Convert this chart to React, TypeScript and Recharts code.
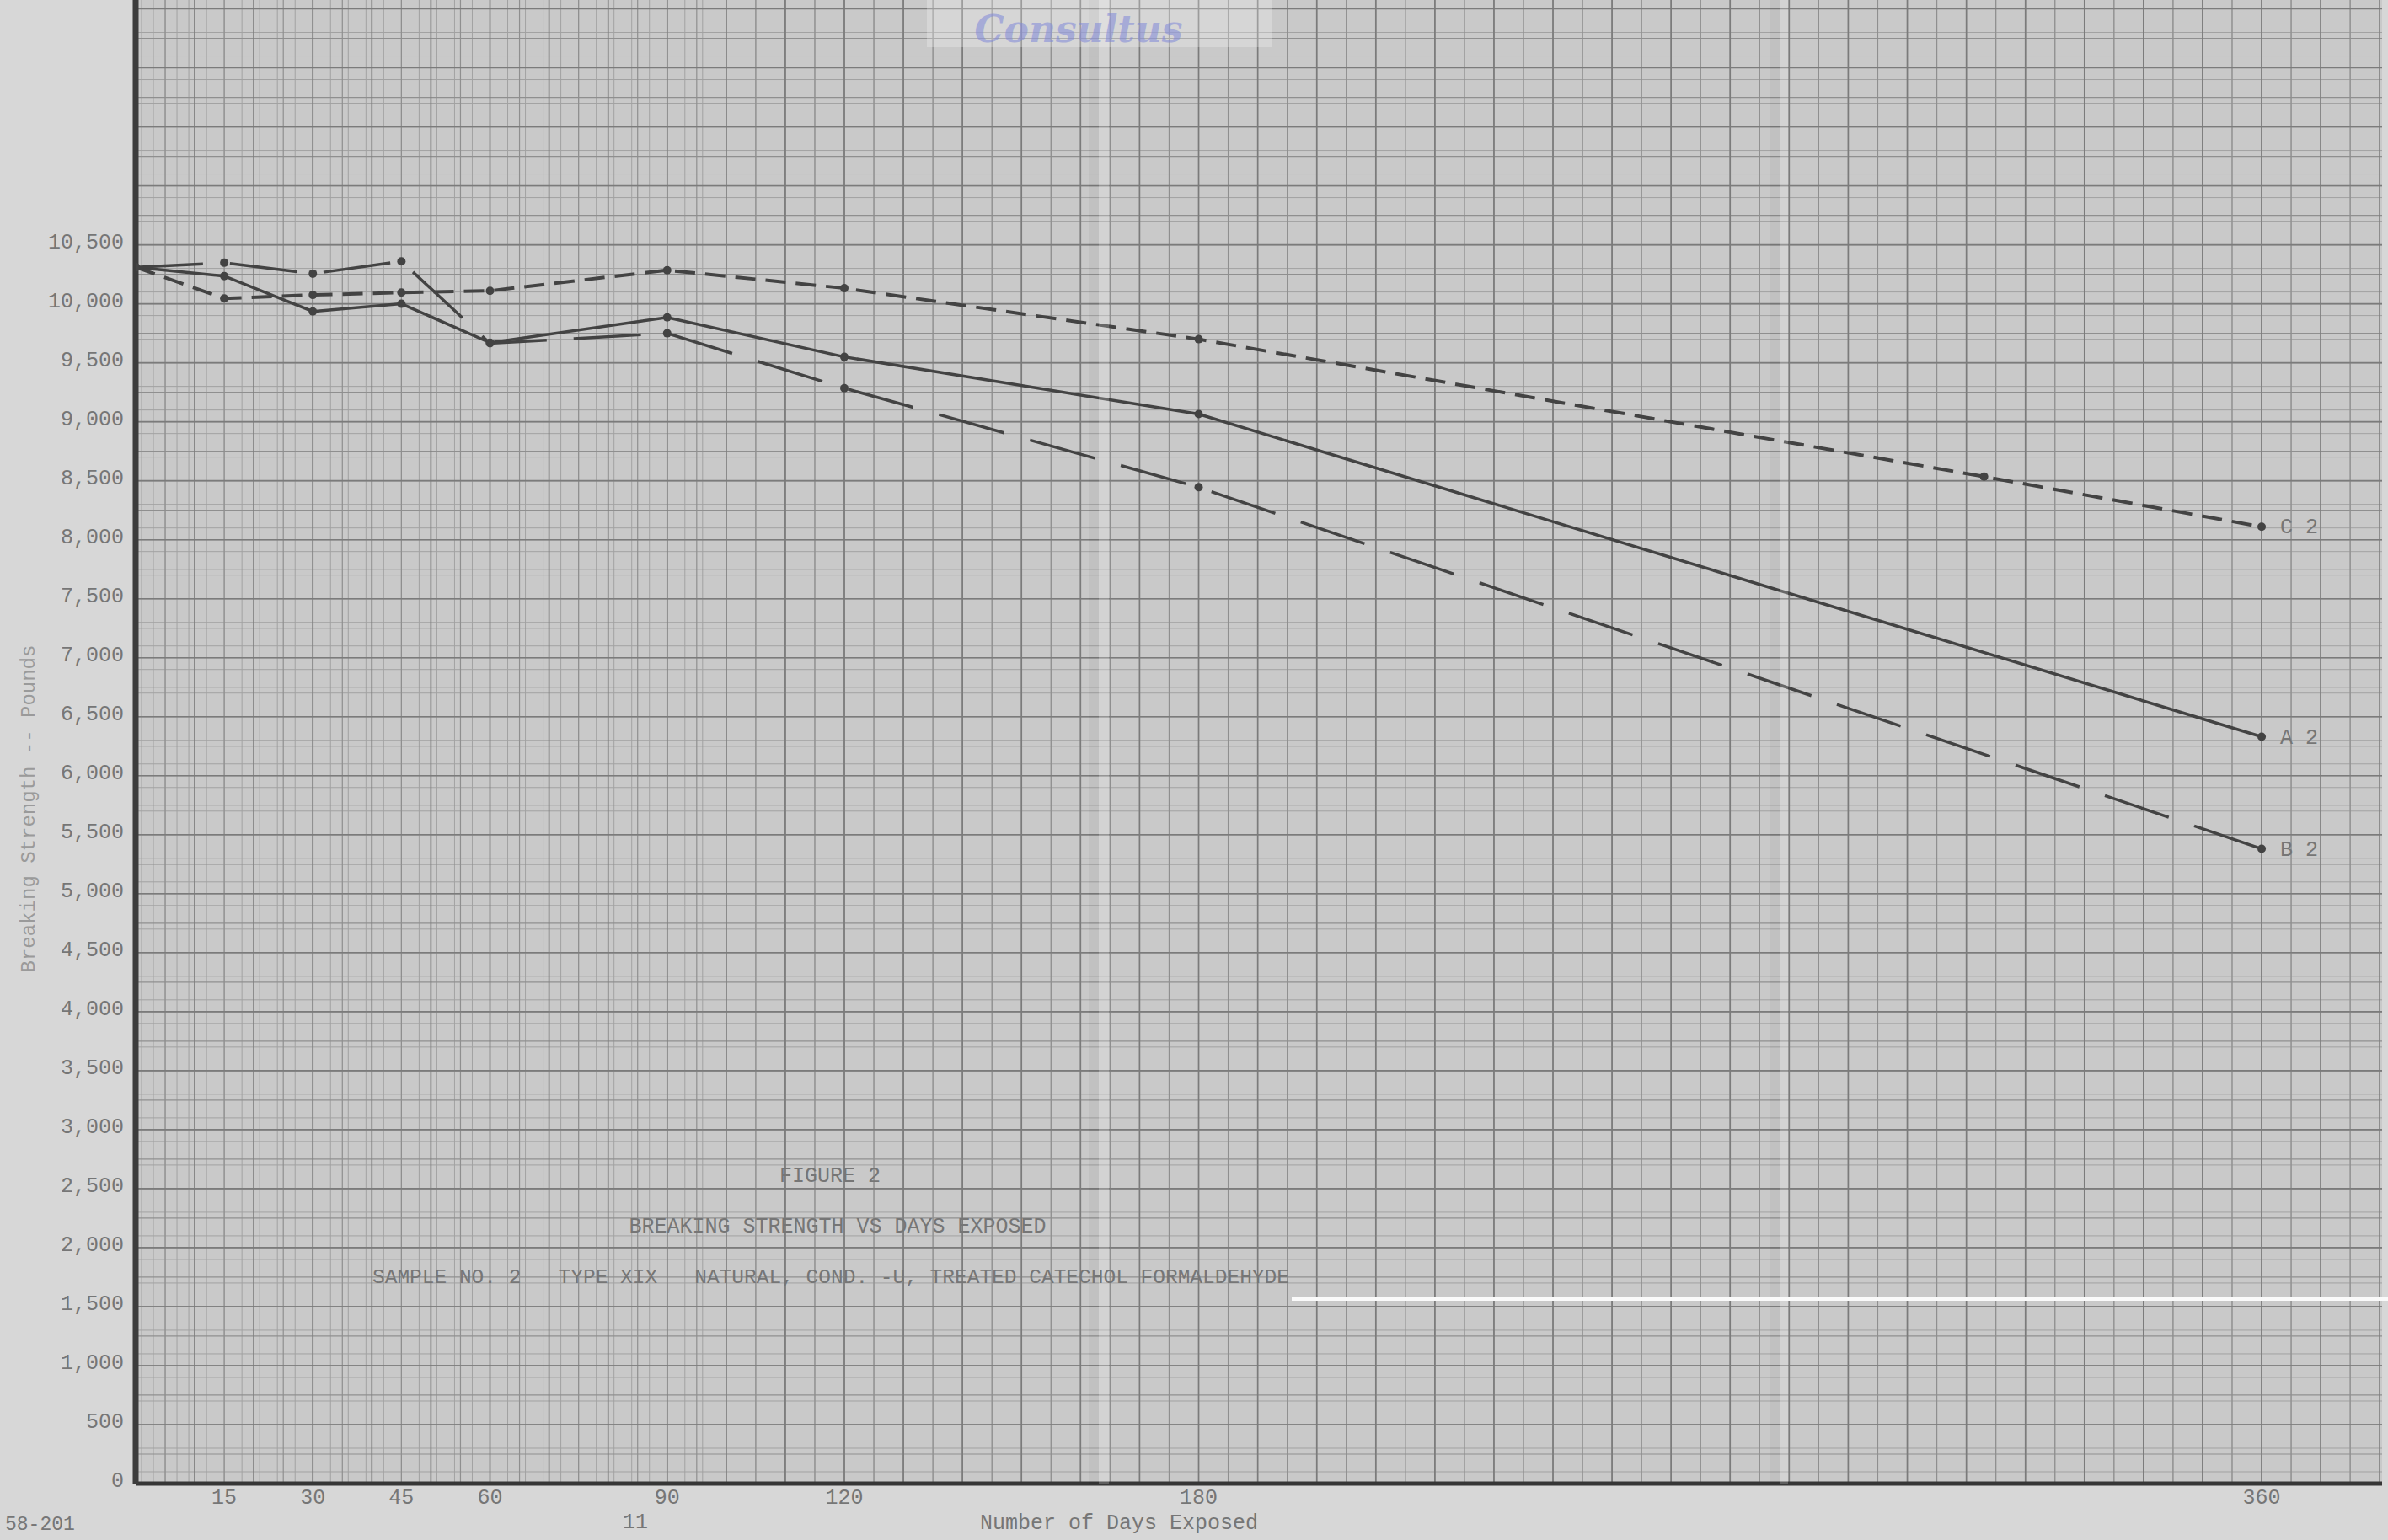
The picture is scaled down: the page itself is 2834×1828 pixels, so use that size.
import React from "react";
import { LineChart, Line, XAxis, YAxis, CartesianGrid } from "recharts";

// days exposed; C2 carries one extra reading between 180 and 360
const days = [0, 15, 30, 45, 60, 90, 120, 180, 313, 360];
const seriesA2 = [10310, 10235, 9935, 10000, 9670, 9885, 9550, 9065, null, 6330];
const seriesB2 = [10310, 10348, 10255, 10360, 9665, 9750, 9285, 8445, null, 5380];
const seriesC2 = [10310, 10045, 10075, 10095, 10110, 10285, 10132, 9700, 8535, 8110];

const xTicks = [15, 30, 45, 60, 90, 120, 180, 360];
const yTicks = [
  0, 500, 1000, 1500, 2000, 2500, 3000, 3500, 4000, 4500, 5000,
  5500, 6000, 6500, 7000, 7500, 8000, 8500, 9000, 9500, 10000, 10500,
];

const X_MAX = 380.4;
const Y_MAX = 12575;

// graph paper rulings: 1 day / 50 lb fine, 5 day / 250 lb medium, 10 day / 500 lb heavy
const fineX = Array.from({ length: 381 }, (_, i) => i);
const fineY = Array.from({ length: 252 }, (_, i) => i * 50);
const midX = fineX.filter((d) => d % 5 === 0);
const midY = fineY.filter((v) => v % 250 === 0);
const majorX = fineX.filter((d) => d % 10 === 0);
const majorY = fineY.filter((v) => v % 500 === 0);

const data = days.map((d, i) => ({
  day: d,
  A2: seriesA2[i],
  B2: seriesB2[i],
  C2: seriesC2[i],
}));

const MONO = "'Liberation Mono', 'DejaVu Sans Mono', monospace";
const INK = "#434343";
const TYPE = "#767676";

// eslint-disable-next-line @typescript-eslint/no-explicit-any
function YTick({ x, y, payload }: any) {
  return (
    <text x={x} y={y + 4} textAnchor="end" fontFamily={MONO} fontSize={25} fill={TYPE}>
      {Number(payload.value).toLocaleString("en-US")}
    </text>
  );
}

// eslint-disable-next-line @typescript-eslint/no-explicit-any
function XTick({ x, y, payload }: any) {
  return (
    <text x={x} y={y + 16} textAnchor="middle" fontFamily={MONO} fontSize={25} fill={TYPE}>
      {payload.value}
    </text>
  );
}

function endLabel(name: string) {
  // eslint-disable-next-line @typescript-eslint/no-explicit-any
  return function EndLabel({ x, y, index }: any) {
    if (index !== days.length - 1) return null;
    return (
      <text x={x + 22} y={y + 8} fontFamily={MONO} fontSize={25} fill={TYPE}>
        {name}
      </text>
    );
  };
}

const dot = { r: 5, fill: INK, stroke: "none" };

export default function App() {
  return (
    <div
      style={{
        position: "absolute",
        left: 0,
        top: 0,
        width: 2834,
        height: 1828,
        background: "#d7d7d7",
        overflow: "hidden",
      }}
    >
      <LineChart
        width={2834}
        height={1828}
        data={data}
        margin={{ top: 0, right: 7, bottom: 0, left: 0 }}
      >
        <CartesianGrid
          fill="#c9c9c9"
          stroke="#a2a2a2"
          strokeWidth={1}
          horizontalValues={fineY}
          verticalValues={fineX}
        />
        <CartesianGrid
          stroke="#8f8f8f"
          strokeWidth={1.2}
          horizontalValues={midY}
          verticalValues={midX}
        />
        <CartesianGrid
          stroke="#7b7b7b"
          strokeWidth={1.6}
          horizontalValues={majorY}
          verticalValues={majorX}
        />
        <XAxis
          dataKey="day"
          type="number"
          domain={[0, X_MAX]}
          allowDataOverflow
          ticks={xTicks}
          height={67}
          tickSize={0}
          tickMargin={8}
          tickLine={false}
          axisLine={{ stroke: "#363636", strokeWidth: 5 }}
          tick={<XTick />}
        />
        <YAxis
          type="number"
          domain={[0, Y_MAX]}
          allowDataOverflow
          ticks={yTicks}
          width={161}
          tickSize={0}
          tickMargin={14}
          tickLine={false}
          axisLine={{ stroke: "#3c3c3c", strokeWidth: 7 }}
          tick={<YTick />}
        />
        <Line
          dataKey="C2"
          type="linear"
          stroke={INK}
          strokeWidth={4}
          strokeDasharray="24 12"
          connectNulls
          dot={dot}
          activeDot={false}
          label={endLabel("C 2")}
          isAnimationActive={false}
        />
        <Line
          dataKey="A2"
          type="linear"
          stroke={INK}
          strokeWidth={3.5}
          connectNulls
          dot={dot}
          activeDot={false}
          label={endLabel("A 2")}
          isAnimationActive={false}
        />
        <Line
          dataKey="B2"
          type="linear"
          stroke={INK}
          strokeWidth={3.5}
          strokeDasharray="80 32"
          connectNulls
          dot={dot}
          activeDot={false}
          label={endLabel("B 2")}
          isAnimationActive={false}
        />
      </LineChart>

      <svg
        width={2834}
        height={1828}
        style={{ position: "absolute", left: 0, top: 0, pointerEvents: "none" }}
      >
        {/* folds and paste edge of the scanned sheet */}
        <rect x={1292} y={0} width={12} height={1761} fill="#000" opacity={0.04} />
        <rect x={1304} y={0} width={12} height={1761} fill="#fff" opacity={0.2} />
        <rect x={2100} y={0} width={12} height={1761} fill="#000" opacity={0.04} />
        <rect x={2112} y={0} width={10} height={1761} fill="#fff" opacity={0.2} />
        <rect x={1533} y={1540} width={1301} height={4} fill="#fafafa" />
        <rect x={1100} y={0} width={410} height={56} fill="#fff" opacity={0.25} />
        <text
          x={1280}
          y={50}
          textAnchor="middle"
          fontFamily="'DejaVu Serif', serif"
          fontStyle="italic"
          fontWeight="bold"
          fontSize={44}
          fill="#8088d8"
          opacity={0.55}
        >
          Consultus
        </text>

        <g fontFamily={MONO} fontSize={25} fill={TYPE}>
          <text x={985} y={1403} textAnchor="middle">FIGURE 2</text>
          <text x={994} y={1463} textAnchor="middle">BREAKING STRENGTH VS DAYS EXPOSED</text>
          <text
            x={986}
            y={1523}
            textAnchor="middle"
            fontSize={24.5}
            xmlSpace="preserve"
            style={{ whiteSpace: "pre" }}
          >
            {"SAMPLE NO. 2   TYPE XIX   NATURAL, COND. -U, TREATED CATECHOL FORMALDEHYDE"}
          </text>
          <text x={1328} y={1815} textAnchor="middle">Number of Days Exposed</text>
          <text x={754} y={1814} textAnchor="middle">11</text>
          <text x={6} y={1816} fontSize={23}>58-201</text>
          <text
            x={33}
            y={960}
            textAnchor="middle"
            fill="#9a9a9a"
            fontSize={24}
            transform="rotate(-90 33 960)"
            dy={8}
          >
            Breaking Strength -- Pounds
          </text>
        </g>
      </svg>
    </div>
  );
}
